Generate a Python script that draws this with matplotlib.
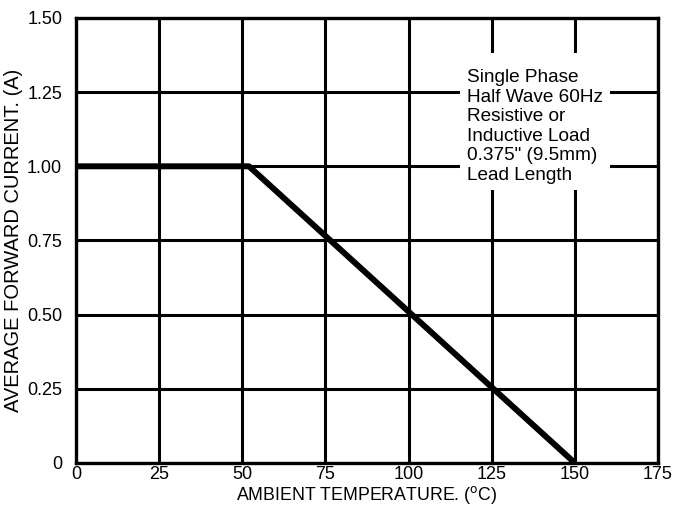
import matplotlib.pyplot as plt
from matplotlib.patches import Rectangle

# derating curve
temp = [0, 52, 150]
current = [1.0, 1.0, 0.0]

x_ticks = [0, 25, 50, 75, 100, 125, 150, 175]
y_ticks = [0, 0.25, 0.50, 0.75, 1.00, 1.25, 1.50]
y_labels = ['0', '0.25', '0.50', '0.75', '1.00', '1.25', '1.50']

note = 'Single Phase\nHalf Wave 60Hz\nResistive or\nInductive Load\n0.375" (9.5mm)\nLead Length'

plt.rcParams['font.family'] = ['Liberation Sans', 'DejaVu Sans']

fig = plt.figure(figsize=(6.74, 5.18), dpi=100)
ax = fig.add_axes([0.1128, 0.1062, 0.8635, 0.8591])

ax.set_xlim(0, 175)
ax.set_ylim(0, 1.5)
ax.set_xticks(x_ticks)
ax.set_yticks(y_ticks)
ax.set_yticklabels(y_labels)
ax.tick_params(length=0, labelsize=13)
ax.tick_params(axis='x', pad=2)
ax.tick_params(axis='y', pad=10)

ax.grid(True, color='black', linewidth=2.2)
ax.set_axisbelow(True)
for s in ax.spines.values():
    s.set_linewidth(2.4)

# white box behind the note
ax.add_patch(Rectangle((115.5, 0.92), 45.1, 0.462, facecolor='white',
                       edgecolor='none', zorder=1.5))
ax.text(117.5, 1.328, note, fontsize=13.7, va='top', ha='left',
        linespacing=1.2, zorder=3)

ax.plot(temp, current, color='black', linewidth=4.3, solid_capstyle='butt', zorder=4)

ax.set_xlabel('AMBIENT TEMPERATURE. ($^{\\mathrm{o}}$C)', fontsize=12.8, labelpad=1)
ax.set_ylabel('AVERAGE FORWARD CURRENT. (A)', fontsize=14.5, labelpad=3)

fig.savefig('out.png', dpi=100)
